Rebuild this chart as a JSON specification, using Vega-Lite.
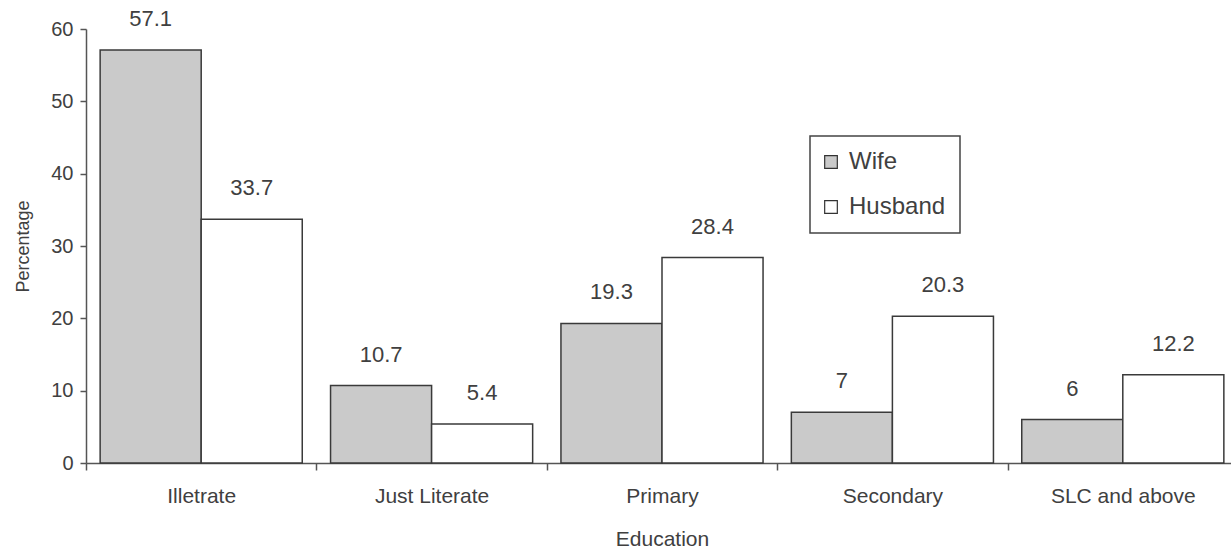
{
  "$schema": "https://vega.github.io/schema/vega-lite/v6.json",
  "width": 1152,
  "height": 434,
  "autosize": {"type": "none"},
  "padding": {"left": 86, "top": 29, "right": 0, "bottom": 92},
  "background": "white",
  "config": {
    "font": "Liberation Sans",
    "view": {"stroke": null},
    "legend": {"strokeColor": "#444444", "strokeWidth": 1.5},
    "axis": {
      "domainColor": "#555555",
      "domainWidth": 1.5,
      "tickColor": "#555555",
      "tickWidth": 1.5,
      "labelColor": "#404040",
      "titleColor": "#404040",
      "titleFontWeight": "normal",
      "grid": false
    }
  },
  "data": {
    "values": [
      {"education": "Illetrate", "person": "Wife", "percentage": 57.1},
      {"education": "Illetrate", "person": "Husband", "percentage": 33.7},
      {"education": "Just Literate", "person": "Wife", "percentage": 10.7},
      {"education": "Just Literate", "person": "Husband", "percentage": 5.4},
      {"education": "Primary", "person": "Wife", "percentage": 19.3},
      {"education": "Primary", "person": "Husband", "percentage": 28.4},
      {"education": "Secondary", "person": "Wife", "percentage": 7},
      {"education": "Secondary", "person": "Husband", "percentage": 20.3},
      {"education": "SLC and above", "person": "Wife", "percentage": 6},
      {"education": "SLC and above", "person": "Husband", "percentage": 12.2}
    ]
  },
  "encoding": {
    "x": {
      "field": "education",
      "type": "nominal",
      "sort": ["Illetrate", "Just Literate", "Primary", "Secondary", "SLC and above"],
      "scale": {"paddingInner": 0, "paddingOuter": 0},
      "axis": {
        "title": "Education",
        "labelAngle": 0,
        "tickBand": "extent",
        "tickSize": 7,
        "labelFontSize": 21,
        "labelPadding": 15,
        "titleFontSize": 21,
        "titlePadding": 22
      }
    },
    "xOffset": {
      "field": "person",
      "type": "nominal",
      "sort": ["Wife", "Husband"],
      "scale": {"paddingInner": 0, "paddingOuter": 0.14}
    },
    "y": {
      "field": "percentage",
      "type": "quantitative",
      "scale": {"domain": [0, 60], "nice": false},
      "axis": {
        "title": "Percentage",
        "values": [0, 10, 20, 30, 40, 50, 60],
        "tickSize": 6,
        "labelFontSize": 20,
        "labelPadding": 7,
        "titleFontSize": 18,
        "titlePadding": 18
      }
    }
  },
  "layer": [
    {
      "mark": {"type": "bar", "stroke": "#3a3a3a", "strokeWidth": 1.5},
      "encoding": {
        "color": {
          "field": "person",
          "type": "nominal",
          "sort": ["Wife", "Husband"],
          "scale": {"domain": ["Wife", "Husband"], "range": ["#cacaca", "#ffffff"]},
          "legend": {
            "title": null,
            "orient": "none",
            "legendX": 724,
            "legendY": 107,
            "direction": "vertical",
            "padding": 14,
            "symbolType": "square",
            "symbolSize": 160,
            "symbolOffset": -5,
            "symbolStrokeColor": "#333333",
            "symbolStrokeWidth": 1.2,
            "labelFontSize": 24,
            "labelColor": "#404040",
            "labelOffset": 6,
            "rowPadding": 21
          }
        }
      }
    },
    {
      "mark": {"type": "text", "baseline": "bottom", "dy": -19, "fontSize": 22, "color": "#404040"},
      "encoding": {
        "text": {"field": "percentage", "type": "quantitative"}
      }
    }
  ]
}
